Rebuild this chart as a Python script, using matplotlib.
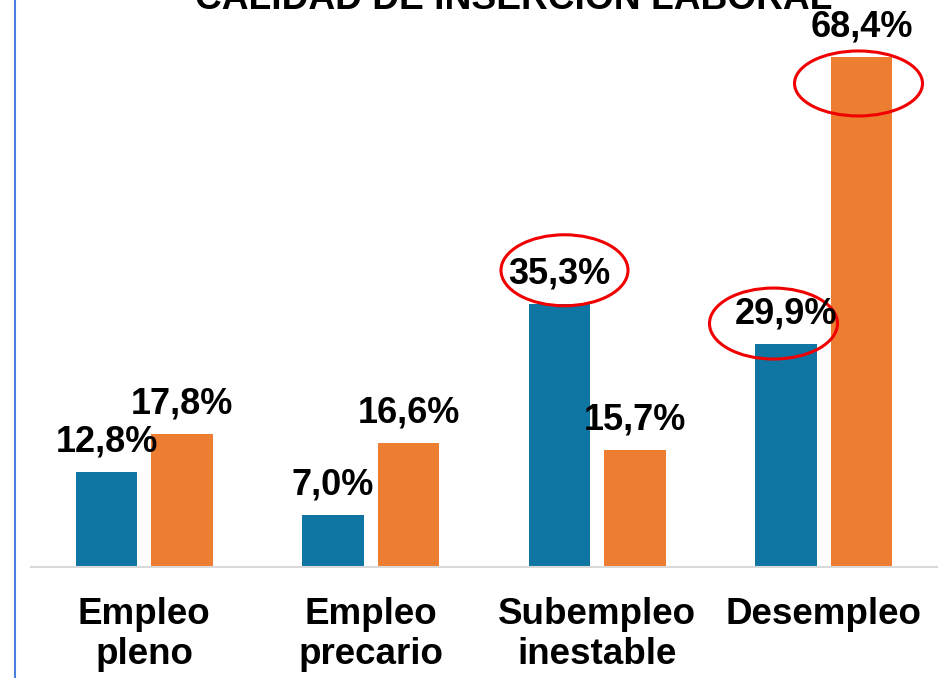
import matplotlib.pyplot as plt
from matplotlib.patches import Ellipse
from matplotlib.lines import Line2D

# Datos del grafico
categorias = ['Empleo\npleno', 'Empleo\nprecario', 'Subempleo\ninestable', 'Desempleo']
serie_azul = [12.8, 7.0, 35.3, 29.9]
serie_naranja = [17.8, 16.6, 15.7, 68.4]
titulo = 'CALIDAD DE INSERCIÓN LABORAL'

# ellipses: (serie, indice, dx px, dy px, ancho px, alto px)
marcas = [('azul', 2, 5, 33.5, 127, 71),
          ('azul', 3, -12.5, 20.5, 128, 71),
          ('naranja', 3, -3, -26.5, 128, 65)]

plt.rcParams['font.family'] = ['Liberation Sans', 'DejaVu Sans']
plt.rcParams['font.weight'] = 'bold'

W, H = 949, 678
fig = plt.figure(figsize=(W / 100, H / 100), dpi=100)
ax_left, ax_right, base_y = 31, 937, 567
ax = fig.add_axes([ax_left / W, (H - base_y) / H, (ax_right - ax_left) / W, base_y / H])

ymax = 76.04
ax.set_xlim(-0.5, len(categorias) - 0.5)
ax.set_ylim(0, ymax)
px_x = (ax_right - ax_left) / len(categorias)
px_y = base_y / ymax

ancho = 0.27
desp = 0.1667
x = list(range(len(categorias)))
xa = [i - desp for i in x]
xn = [i + desp for i in x]
ax.bar(xa, serie_azul, width=ancho, color='#0F76A3')
ax.bar(xn, serie_naranja, width=ancho, color='#ED7D31')

for xs, vals in ((xa, serie_azul), (xn, serie_naranja)):
    for xi, v in zip(xs, vals):
        ax.annotate(f'{v:.1f}%'.replace('.', ','), (xi, v), xytext=(0, 21.6),
                    textcoords='offset points', ha='center', va='center',
                    fontsize=26, fontweight='bold', color='black')

for serie, i, dx, dy, w, h in marcas:
    xs, vals = (xa, serie_azul) if serie == 'azul' else (xn, serie_naranja)
    e = Ellipse((xs[i] + dx / px_x, vals[i] + dy / px_y), w / px_x, h / px_y,
                fill=False, edgecolor='#F00000', lw=2.2, clip_on=False)
    ax.add_patch(e)

for s in ['top', 'right', 'left']:
    ax.spines[s].set_visible(False)
ax.spines['bottom'].set_color('#D9D9D9')
ax.spines['bottom'].set_linewidth(1.5)
ax.set_yticks([])
ax.set_xticks(x)
ax.set_xticklabels(categorias, fontsize=26.5, fontweight='bold', linespacing=1.2)
ax.tick_params(axis='x', length=0, pad=21.5)

fig.text(513.5 / W, 1 - 9 / H, titulo, ha='center', va='baseline',
         fontsize=26.7, fontweight='bold')
fig.add_artist(Line2D([14.5 / W, 14.5 / W], [0, 1], color='#4A7FE0', lw=1.5,
                      transform=fig.transFigure))

fig.savefig('out.png', dpi=100)
